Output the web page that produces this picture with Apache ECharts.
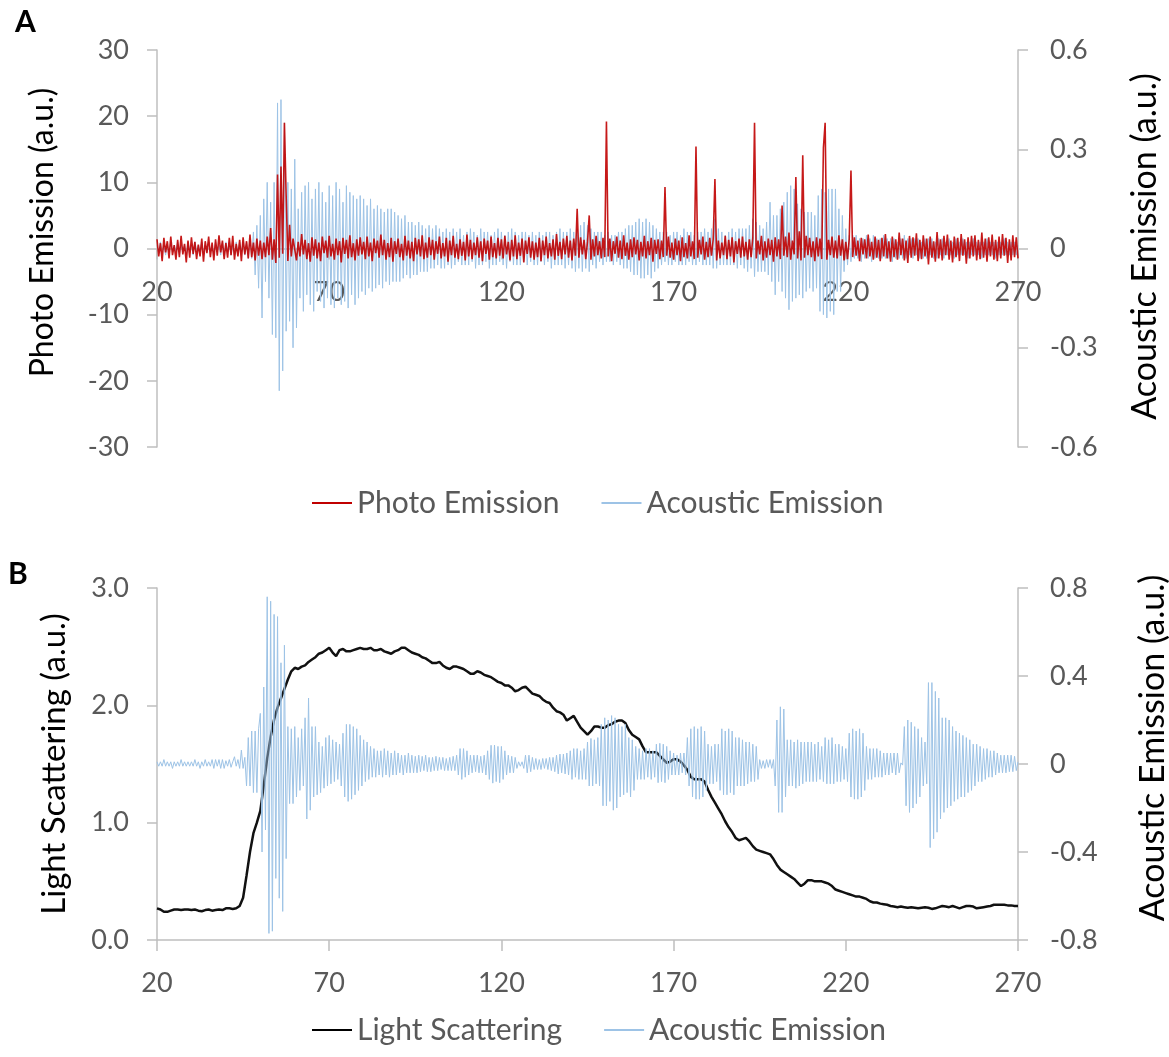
<!DOCTYPE html>
<html>
<head>
<meta charset="utf-8">
<title>Photo emission, light scattering and acoustic emission</title>
<script src="https://cdn.jsdelivr.net/npm/echarts@6.0.0/dist/echarts.min.js"></script>
<style>
  html, body { margin: 0; padding: 0; background: #fff; }
  #chart { width: 1169px; height: 1057px; }
</style>
</head>
<body>
<div id="chart"></div>
<script>
// time axis shared by both panels
const xStart = 20;
const xStep = 0.5;       // photo / acoustic traces
const xStepLight = 1;    // light scattering trace
const xTicks = [20, 70, 120, 170, 220, 270];
const acousticTicksA = [-0.6, -0.3, 0, 0.3, 0.6];
const acousticTicksB = [-0.8, -0.4, 0, 0.4, 0.8];

// panel A, photo emission (left axis), one row = 10 time units
const photoA = [
  1.4,-1.2,0.8,-1.9,1.6,-0.6,1.1,-1.5,1.8,-1.0,0.5,-1.7,1.3,-1.3,1.9,-0.9,0.7,-2.1,1.2,-1.4,
  1.7,-0.8,1.0,-1.6,0.6,-1.2,1.5,-2.0,1.1,-0.7,1.8,-1.3,0.9,-1.8,1.4,-1.1,2.0,-0.6,1.2,-1.6,
  0.8,-1.4,1.6,-1.0,1.9,-1.7,0.7,-1.2,1.3,-1.9,1.7,-0.9,1.1,-1.5,2.1,-1.3,0.9,-1.8,1.5,-1.1,
  1.2,-1.6,0.9,-1.3,1.8,-1.0,3.1,-1.7,1.4,-2.2,11.2,-1.4,12.4,-0.8,19.0,8.0,-1.9,3.6,-1.2,1.5,
  1.6,-1.8,1.0,-1.2,2.2,-0.9,1.3,-1.6,0.8,-2.0,1.7,-1.1,1.4,-1.5,0.9,-1.9,1.8,-0.7,1.2,-1.4,
  1.9,-1.2,0.7,-1.7,1.5,-1.0,1.1,-2.1,1.6,-0.8,1.3,-1.5,2.0,-1.3,0.8,-1.8,1.4,-1.1,1.7,-0.9,
  1.0,-1.6,1.8,-1.2,0.9,-1.9,1.5,-0.7,1.2,-1.4,2.1,-1.0,1.3,-1.7,0.8,-1.3,1.6,-2.0,1.1,-0.8,
  1.5,-1.3,0.7,-1.8,1.9,-1.1,1.2,-1.5,1.0,-1.9,1.6,-0.9,1.4,-1.2,2.0,-1.6,0.9,-1.4,1.7,-1.0,
  1.3,-1.7,1.1,-0.8,1.8,-1.5,0.8,-1.2,1.6,-2.0,1.2,-1.0,1.9,-1.4,0.7,-1.6,1.4,-1.1,1.0,-1.8,
  2.1,-1.2,1.3,-1.6,0.9,-1.0,1.7,-1.4,1.1,-1.9,1.5,-0.8,1.2,-1.7,1.8,-1.3,0.8,-1.5,1.6,-1.1,
  1.4,-1.5,1.9,-0.9,1.0,-1.8,1.3,-1.2,2.0,-1.6,0.9,-1.1,1.5,-2.1,1.2,-0.8,1.7,-1.4,1.1,-1.7,
  0.9,-1.3,1.6,-1.9,1.2,-1.0,1.8,-1.5,0.8,-1.2,1.4,-1.7,2.2,-1.1,1.0,-1.6,1.5,-0.9,1.9,-1.4,
  1.2,-1.8,1.5,-1.1,6.0,-1.4,1.7,-0.9,1.3,-1.6,1.0,5.0,-1.7,1.4,-1.2,1.9,-1.0,1.1,-1.5,1.6,
  -1.3,19.2,-1.2,1.5,-1.9,1.1,-0.8,1.8,-1.4,1.2,-1.6,2.0,-1.1,0.9,-1.7,1.4,-1.3,1.7,-0.9,1.3,
  -1.8,1.0,-1.2,1.9,-1.5,1.1,-1.0,1.6,-2.0,1.3,-0.8,1.4,-1.6,1.2,-1.3,9.3,-1.1,1.8,-1.4,0.9,
  -1.7,1.5,-1.0,1.2,-1.9,1.7,-1.3,0.8,-1.5,2.0,-1.2,1.1,-1.6,15.4,-1.4,1.3,-0.9,1.8,-1.7,1.0,
  -1.3,1.6,-1.1,1.4,10.5,-1.8,1.2,-1.5,0.9,-1.0,1.9,-1.6,1.3,-1.2,1.7,-2.1,1.1,-0.8,1.5,-1.4,
  1.8,-1.2,1.0,-1.7,1.4,-1.3,1.6,19.0,-1.5,1.2,-0.9,1.9,-1.8,1.1,-1.4,1.5,-1.0,1.3,-2.0,1.7,
  -1.2,1.4,-1.6,6.5,-1.1,1.8,-1.3,2.4,-1.7,1.2,-0.9,10.8,-1.5,2.6,-1.8,14.1,-1.4,1.9,-1.0,1.6,
  -1.3,1.1,-1.9,1.7,-1.2,1.5,-1.6,15.2,19.0,-1.7,1.3,-1.0,1.8,-1.4,1.2,-1.5,2.0,-1.1,1.4,-1.8,
  1.0,-1.6,1.5,11.8,-1.3,1.7,-1.1,1.2,-1.9,1.6,-0.9,1.4,-1.5,2.1,-1.2,1.0,-1.7,1.8,-1.4,1.3,
  -1.9,1.6,-1.2,2.2,-1.5,1.1,-2.0,1.8,-1.3,1.4,-1.7,2.4,-1.0,1.5,-1.8,1.2,-2.2,1.9,-1.4,1.7,
  -1.1,2.3,-1.9,1.3,-1.6,2.0,-1.2,1.5,-2.4,1.8,-1.4,1.1,-2.0,2.5,-1.5,1.4,-1.8,1.9,-1.0,2.1,
  -1.7,1.2,-2.1,1.8,-1.3,1.6,-1.9,2.2,-1.1,1.4,-2.3,1.7,-1.5,1.9,-1.2,2.0,-1.8,1.3,-1.6,2.4,
  -1.4,1.5,-2.0,1.7,-1.2,2.1,-1.7,1.3,-1.9,1.8,-1.5,2.2,-1.1,1.6,-2.2,1.4,-1.8,2.0,-1.3,1.7,
  -1.5
];

// panel A, acoustic emission (right axis)
const acousticA = [
  0.01,-0.01,0.02,-0.01,0.01,-0.02,0.01,-0.01,0.02,-0.01,0.01,-0.01,0.02,-0.02,0.01,-0.01,0.01,-0.02,0.02,-0.01,
  0.01,-0.02,0.02,-0.01,0.01,-0.01,0.02,-0.02,0.01,-0.01,0.02,-0.01,0.01,-0.02,0.02,-0.01,0.01,-0.02,0.02,-0.02,
  0.02,-0.01,0.02,-0.02,0.01,-0.02,0.02,-0.02,0.02,-0.01,0.02,-0.02,0.02,-0.03,0.03,-0.03,0.05,-0.08,0.07,-0.12,
  0.1,-0.21,0.15,-0.1,0.2,-0.15,0.14,-0.26,0.2,-0.27,0.44,-0.43,0.45,-0.37,0.38,-0.25,0.2,-0.22,0.18,-0.3,
  0.27,-0.24,0.12,-0.15,0.17,-0.19,0.19,-0.14,0.2,-0.17,0.15,-0.19,0.18,-0.13,0.2,-0.16,0.17,-0.18,0.14,-0.15,
  0.19,-0.17,0.16,-0.18,0.2,-0.15,0.18,-0.17,0.14,-0.16,0.19,-0.18,0.17,-0.14,0.16,-0.17,0.15,-0.15,0.16,-0.13,
  0.15,-0.14,0.13,-0.12,0.15,-0.13,0.12,-0.12,0.13,-0.11,0.12,-0.12,0.11,-0.1,0.12,-0.11,0.12,-0.1,0.11,-0.1,
  0.1,-0.1,0.09,-0.09,0.1,-0.08,0.08,-0.09,0.08,-0.08,0.07,-0.08,0.08,-0.07,0.07,-0.07,0.06,-0.07,0.07,-0.06,
  0.06,-0.06,0.07,-0.05,0.06,-0.06,0.05,-0.06,0.06,-0.05,0.05,-0.06,0.06,-0.05,0.05,-0.04,0.06,-0.05,0.04,-0.05,
  0.05,-0.05,0.06,-0.04,0.05,-0.06,0.04,-0.05,0.06,-0.05,0.05,-0.04,0.05,-0.06,0.04,-0.05,0.05,-0.05,0.06,-0.04,
  0.05,-0.05,0.04,-0.06,0.05,-0.04,0.06,-0.05,0.05,-0.05,0.04,-0.05,0.05,-0.04,0.05,-0.05,0.04,-0.04,0.05,-0.05,
  0.04,-0.05,0.05,-0.04,0.04,-0.05,0.05,-0.04,0.05,-0.06,0.04,-0.05,0.05,-0.05,0.06,-0.05,0.05,-0.06,0.05,-0.05,
  0.06,-0.06,0.05,-0.07,0.06,-0.06,0.07,-0.07,0.08,-0.06,0.07,-0.07,0.06,-0.05,0.05,-0.06,0.05,-0.04,0.05,-0.05,
  0.04,-0.04,0.05,-0.04,0.04,-0.05,0.04,-0.04,0.05,-0.05,0.05,-0.06,0.06,-0.06,0.07,-0.07,0.07,-0.08,0.08,-0.08,
  0.09,-0.09,0.08,-0.09,0.09,-0.08,0.08,-0.09,0.07,-0.07,0.06,-0.06,0.05,-0.05,0.05,-0.04,0.05,-0.05,0.04,-0.05,
  0.05,-0.04,0.05,-0.05,0.04,-0.05,0.06,-0.05,0.05,-0.04,0.05,-0.05,0.04,-0.05,0.05,-0.04,0.05,-0.05,0.06,-0.05,
  0.05,-0.05,0.06,-0.06,0.09,-0.06,0.06,-0.05,0.05,-0.05,0.04,-0.05,0.05,-0.05,0.06,-0.05,0.05,-0.06,0.06,-0.05,
  0.06,-0.06,0.06,-0.07,0.07,-0.06,0.09,-0.085,0.08,-0.07,0.07,-0.07,0.06,-0.07,0.08,-0.08,0.14,-0.1,0.1,-0.14,
  0.1,-0.1,0.12,-0.13,0.14,-0.15,0.17,-0.185,0.19,-0.16,0.18,-0.15,0.135,-0.14,0.12,-0.15,0.11,-0.13,0.11,-0.12,
  0.11,-0.13,0.1,-0.12,0.16,-0.19,0.18,-0.2,0.17,-0.21,0.18,-0.19,0.18,-0.2,0.18,-0.13,0.12,-0.13,0.1,-0.07,
  0.06,-0.05,0.04,-0.04,0.04,-0.03,0.04,-0.03,0.03,-0.04,0.03,-0.03,0.04,-0.03,0.03,-0.04,0.04,-0.03,0.03,-0.03,
  0.03,-0.03,0.04,-0.03,0.03,-0.03,0.03,-0.04,0.03,-0.03,0.02,-0.03,0.03,-0.03,0.04,-0.03,0.03,-0.02,0.03,-0.03,
  0.03,-0.02,0.03,-0.03,0.02,-0.03,0.03,-0.03,0.03,-0.02,0.03,-0.03,0.02,-0.03,0.03,-0.02,0.03,-0.03,0.02,-0.02,
  0.03,-0.02,0.02,-0.03,0.03,-0.02,0.02,-0.02,0.03,-0.02,0.02,-0.03,0.02,-0.02,0.03,-0.02,0.02,-0.02,0.02,-0.03,
  0.02,-0.02,0.03,-0.02,0.02,-0.02,0.02,-0.03,0.02,-0.02,0.02,-0.02,0.03,-0.02,0.02,-0.02,0.02,-0.02,0.02,-0.02,
  0.01
];

// panel B, light scattering (left axis), one row = 10 time units
const lightB = [
  0.27,0.26,0.24,0.24,0.25,0.26,0.26,0.255,0.26,0.26,
  0.255,0.26,0.25,0.245,0.255,0.26,0.25,0.255,0.26,0.255,
  0.27,0.27,0.265,0.27,0.29,0.36,0.55,0.75,0.91,1.0,
  1.1,1.32,1.55,1.73,1.88,1.98,2.06,2.14,2.22,2.29,
  2.32,2.31,2.33,2.34,2.37,2.39,2.41,2.44,2.45,2.47,
  2.49,2.45,2.42,2.47,2.48,2.46,2.46,2.47,2.48,2.49,
  2.48,2.48,2.49,2.47,2.47,2.48,2.46,2.45,2.44,2.46,
  2.47,2.49,2.49,2.47,2.45,2.44,2.43,2.41,2.4,2.38,
  2.36,2.36,2.37,2.34,2.32,2.31,2.33,2.33,2.32,2.31,
  2.29,2.27,2.27,2.29,2.28,2.26,2.25,2.24,2.22,2.2,
  2.19,2.17,2.17,2.15,2.12,2.13,2.15,2.16,2.13,2.1,
  2.09,2.08,2.05,2.03,2.02,1.98,1.95,1.94,1.92,1.87,
  1.89,1.91,1.86,1.81,1.78,1.75,1.78,1.82,1.82,1.81,
  1.81,1.83,1.84,1.86,1.87,1.87,1.85,1.79,1.75,1.73,
  1.71,1.65,1.6,1.6,1.6,1.6,1.57,1.54,1.51,1.52,
  1.54,1.54,1.52,1.49,1.45,1.39,1.37,1.37,1.37,1.35,
  1.28,1.22,1.17,1.12,1.07,1.01,0.96,0.92,0.87,0.85,
  0.86,0.87,0.84,0.8,0.77,0.76,0.75,0.74,0.73,0.69,
  0.64,0.6,0.58,0.56,0.54,0.52,0.49,0.46,0.48,0.51,
  0.51,0.5,0.5,0.5,0.49,0.48,0.46,0.43,0.42,0.41,
  0.4,0.39,0.38,0.37,0.37,0.36,0.35,0.33,0.32,0.32,
  0.31,0.305,0.3,0.29,0.285,0.28,0.285,0.28,0.275,0.28,
  0.275,0.27,0.275,0.28,0.275,0.265,0.27,0.28,0.29,0.285,
  0.28,0.29,0.28,0.27,0.28,0.29,0.29,0.285,0.27,0.275,
  0.28,0.285,0.29,0.3,0.3,0.3,0.3,0.295,0.295,0.29,
  0.29
];

// panel B, acoustic emission (right axis)
const acousticB = [
  0.01,-0.01,0.01,-0.01,0.02,-0.01,0.01,-0.01,0.01,-0.02,0.01,-0.01,0.01,-0.01,0.02,-0.01,0.01,-0.01,0.01,-0.01,
  0.01,-0.01,0.02,-0.01,0.01,-0.02,0.01,-0.01,0.02,-0.01,0.01,-0.01,0.02,-0.02,0.02,-0.01,0.02,-0.02,0.02,-0.02,
  0.015,-0.01,0.02,-0.015,0.01,0.033,-0.01,0.02,-0.02,0.063,-0.02,0.03,-0.1,0.12,-0.1,0.15,-0.13,0.15,-0.13,0.16,
  0.23,-0.4,0.35,-0.3,0.76,-0.77,0.74,-0.76,0.68,-0.52,0.67,-0.61,0.46,-0.67,0.54,-0.43,0.17,-0.18,0.16,-0.18,
  0.17,-0.15,0.12,-0.12,0.16,-0.1,0.21,-0.25,0.3,-0.21,0.17,-0.15,0.17,-0.14,0.1,-0.13,0.08,-0.11,0.12,-0.1,
  0.13,-0.09,0.11,-0.08,0.1,-0.07,0.09,-0.1,0.14,-0.15,0.18,-0.17,0.18,-0.16,0.17,-0.14,0.16,-0.12,0.13,-0.1,
  0.11,-0.08,0.1,-0.07,0.08,-0.06,0.07,-0.06,0.06,-0.05,0.06,-0.06,0.07,-0.05,0.06,-0.06,0.05,-0.05,0.06,-0.05,
  0.05,-0.04,0.04,-0.05,0.04,-0.04,0.05,-0.04,0.04,-0.04,0.035,-0.04,0.04,-0.035,0.035,-0.03,0.04,-0.035,0.03,-0.035,
  0.03,-0.03,0.035,-0.03,0.03,-0.025,0.03,-0.03,0.025,-0.03,0.03,-0.03,0.035,-0.03,0.04,-0.05,0.07,-0.07,0.07,-0.06,
  0.06,-0.05,0.04,-0.04,0.04,-0.035,0.04,-0.04,0.035,-0.04,0.04,-0.05,0.06,-0.07,0.085,-0.087,0.086,-0.08,0.08,-0.085,
  0.08,-0.07,0.06,-0.05,0.04,-0.04,0.035,-0.04,0.03,-0.02,0.01,-0.01,0.01,-0.02,0.04,-0.04,0.04,-0.035,0.03,-0.025,
  0.025,-0.025,0.02,-0.025,0.025,-0.02,0.025,-0.025,0.03,-0.03,0.03,-0.035,0.04,-0.045,0.045,-0.04,0.045,-0.045,0.05,-0.05,
  0.06,-0.07,0.07,-0.06,0.07,-0.07,0.06,-0.07,0.07,-0.07,0.1,-0.1,0.116,-0.1,0.11,-0.09,0.12,-0.1,0.18,-0.19,
  0.21,-0.19,0.2,-0.17,0.22,-0.21,0.21,-0.2,0.18,-0.15,0.17,-0.14,0.18,-0.13,0.12,-0.15,0.11,-0.12,0.08,-0.07,
  0.07,-0.07,0.06,-0.07,0.07,-0.06,0.07,-0.07,0.06,-0.06,0.09,-0.085,0.094,-0.08,0.09,-0.085,0.08,-0.07,0.06,-0.05,
  0.05,-0.05,0.04,-0.05,0.05,-0.04,0.05,-0.05,0.12,-0.1,0.16,-0.15,0.17,-0.16,0.16,-0.16,0.17,-0.15,0.15,-0.12,
  0.09,-0.09,0.08,-0.09,0.09,-0.08,0.09,-0.12,0.16,-0.14,0.15,-0.14,0.16,-0.13,0.15,-0.14,0.12,-0.1,0.12,-0.1,
  0.11,-0.1,0.1,-0.09,0.1,-0.08,0.09,-0.08,0.08,-0.07,0.02,-0.02,0.015,-0.02,0.02,-0.015,0.02,-0.02,0.02,-0.1,
  0.2,-0.22,0.26,-0.22,0.25,-0.15,0.11,-0.1,0.11,-0.1,0.1,-0.11,0.11,-0.1,0.1,-0.09,0.1,-0.08,0.1,-0.08,
  0.1,-0.08,0.09,-0.08,0.1,-0.07,0.08,-0.08,0.12,-0.09,0.11,-0.09,0.12,-0.09,0.09,-0.08,0.09,-0.08,0.08,-0.07,
  0.07,-0.08,0.14,-0.15,0.16,-0.16,0.15,-0.16,0.16,-0.15,0.14,-0.12,0.08,-0.07,0.07,-0.07,0.07,-0.06,0.07,-0.06,
  0.06,-0.06,0.05,-0.05,0.05,-0.05,0.05,-0.04,0.05,-0.05,0.05,-0.04,0.005,-0.005,0.17,-0.19,0.2,-0.22,0.19,-0.2,
  0.17,-0.18,0.16,-0.15,0.12,-0.1,0.1,-0.09,0.37,-0.38,0.37,-0.34,0.33,-0.31,0.3,-0.25,0.21,-0.22,0.21,-0.2,
  0.2,-0.19,0.17,-0.17,0.15,-0.16,0.14,-0.15,0.13,-0.15,0.12,-0.13,0.11,-0.12,0.09,-0.1,0.09,-0.08,0.08,-0.08,
  0.07,-0.07,0.07,-0.06,0.06,-0.06,0.06,-0.05,0.05,-0.04,0.04,-0.04,0.04,-0.04,0.04,-0.035,0.04,-0.035,0.035,-0.03,
  0.01
];

function toPairs(values, step) {
  return values.map((v, i) => [xStart + i * step, v]);
}

const font = 'Lato, "Open Sans", sans-serif';
const axisGray = '#bfbfbf';
const labelGray = '#595959';
const red = '#c00000';
const blue = '#9dc3e6';

const tickLabel = { color: labelGray, fontSize: 27, fontFamily: font };

function xAxisFor(gridIndex, offset) {
  return {
    type: 'value',
    gridIndex: gridIndex,
    position: 'bottom',
    offset: offset,
    min: 20,
    max: 270,
    axisLine: { onZero: false, lineStyle: { color: axisGray, width: 1.5 } },
    axisTick: { length: 11, customValues: xTicks, lineStyle: { color: axisGray, width: 1.5 } },
    axisLabel: Object.assign({ margin: 30, customValues: xTicks }, tickLabel),
    splitLine: { show: false }
  };
}

function sideAxis(opts, titleSize, titleShift) {
  return Object.assign({
    type: 'value',
    nameLocation: 'middle',
    nameRotate: 90,
    nameTextStyle: {
      color: '#000', fontSize: titleSize, fontFamily: font,
      padding: [0, 0, 0, titleShift]
    },
    axisLine: { show: true, onZero: false, lineStyle: { color: axisGray, width: 1.5 } },
    axisTick: { show: true, length: 10, lineStyle: { color: axisGray, width: 1.5 } },
    splitLine: { show: false }
  }, opts);
}

const chart = echarts.init(document.getElementById('chart'), null, { renderer: 'canvas' });

const option = {
  animation: false,
  backgroundColor: '#fff',
  title: [
    { text: 'A', left: 15, top: 7, padding: 0, textStyle: { fontSize: 30, fontWeight: 'bold', color: '#000', fontFamily: font } },
    { text: 'B', left: 8, top: 559, padding: 0, textStyle: { fontSize: 30, fontWeight: 'bold', color: '#000', fontFamily: font } }
  ],
  grid: [
    { left: 157, right: 151, top: 50, height: 397, containLabel: false, outerBoundsMode: 'none' },
    { left: 157, right: 151, top: 588, height: 352, containLabel: false, outerBoundsMode: 'none' }
  ],
  legend: [
    {
      left: 312, top: 488, padding: 0, icon: 'rect', itemWidth: 40, itemHeight: 2, itemGap: 42,
      selectedMode: false,
      textStyle: { color: labelGray, fontSize: 30, fontFamily: font },
      data: ['Photo Emission', 'Acoustic Emission']
    },
    {
      left: 312, top: 1015, padding: 0, icon: 'rect', itemWidth: 40, itemHeight: 2, itemGap: 42,
      selectedMode: false,
      textStyle: { color: labelGray, fontSize: 30, fontFamily: font },
      data: ['Light Scattering', 'Acoustic Emission']
    }
  ],
  // panel A's time axis sits on the zero line, halfway up the plot
  xAxis: [xAxisFor(0, -198.5), xAxisFor(1, 0)],
  yAxis: [
    sideAxis({
      gridIndex: 0, position: 'left', min: -30, max: 30, interval: 10,
      name: 'Photo Emission (a.u.)', nameGap: 98,
      axisLabel: Object.assign({ margin: 28 }, tickLabel)
    }, 32, 32),
    sideAxis({
      gridIndex: 0, position: 'right', min: -0.6, max: 0.6,
      name: 'Acoustic Emission (a.u.)', nameGap: 110,
      axisTick: { show: true, length: 10, customValues: acousticTicksA, lineStyle: { color: axisGray, width: 1.5 } },
      axisLabel: Object.assign({
        margin: 32, customValues: acousticTicksA,
        formatter: v => (Math.abs(v) < 1e-9 ? '0' : v.toFixed(1))
      }, tickLabel)
    }, 34, 4),
    sideAxis({
      gridIndex: 1, position: 'left', min: 0, max: 3, interval: 1,
      name: 'Light Scattering (a.u.)', nameGap: 86,
      axisLabel: Object.assign({ margin: 28, formatter: v => v.toFixed(1) }, tickLabel)
    }, 33, 0),
    sideAxis({
      gridIndex: 1, position: 'right', min: -0.8, max: 0.8,
      name: 'Acoustic Emission (a.u.)', nameGap: 118,
      axisTick: { show: true, length: 10, customValues: acousticTicksB, lineStyle: { color: axisGray, width: 1.5 } },
      axisLabel: Object.assign({
        margin: 32, customValues: acousticTicksB,
        formatter: v => (Math.abs(v) < 1e-9 ? '0' : v.toFixed(1))
      }, tickLabel)
    }, 34, 32)
  ],
  series: [
    {
      name: 'Acoustic Emission', type: 'line', xAxisIndex: 0, yAxisIndex: 1,
      data: toPairs(acousticA, xStep), symbol: 'none', z: 2,
      itemStyle: { color: blue }, lineStyle: { color: blue, width: 1 }
    },
    {
      name: 'Photo Emission', type: 'line', xAxisIndex: 0, yAxisIndex: 0,
      data: toPairs(photoA, xStep), symbol: 'none', z: 3,
      itemStyle: { color: red }, lineStyle: { color: red, width: 1.6, opacity: 0.9 }
    },
    {
      name: 'Light Scattering', type: 'line', xAxisIndex: 1, yAxisIndex: 2,
      data: toPairs(lightB, xStepLight), symbol: 'none',
      itemStyle: { color: '#000' }, lineStyle: { color: '#111', width: 2.5 }
    },
    {
      name: 'Acoustic Emission', type: 'line', xAxisIndex: 1, yAxisIndex: 3,
      data: toPairs(acousticB, xStep), symbol: 'none',
      itemStyle: { color: blue }, lineStyle: { color: blue, width: 1 }
    }
  ]
};

chart.setOption(option);
</script>
</body>
</html>
